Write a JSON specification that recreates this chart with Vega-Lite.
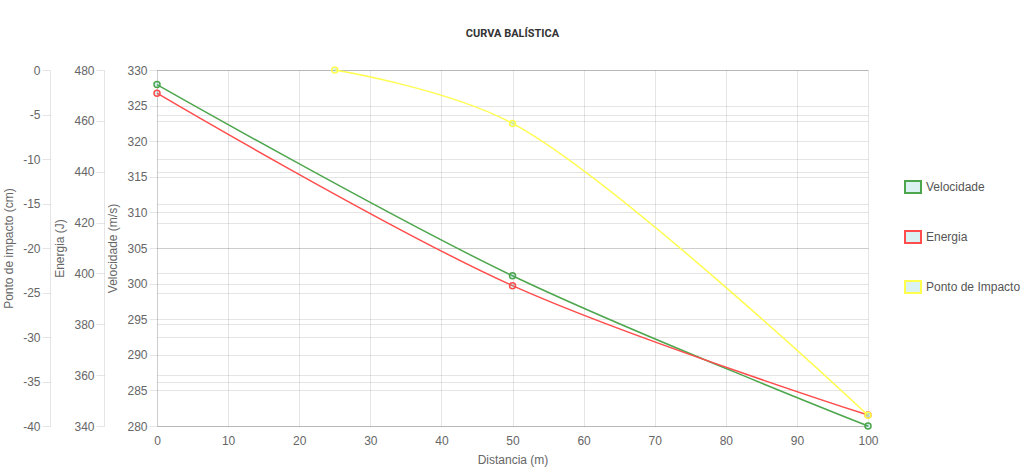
{
  "$schema": "https://vega.github.io/schema/vega-lite/v6.json",
  "autosize": {"type": "none"},
  "padding": {"left": 157, "top": 70, "right": 156, "bottom": 48},
  "width": 711,
  "height": 356,
  "background": "white",
  "title": {"text": "CURVA BALÍSTICA", "font": "Roboto", "fontSize": 11, "fontWeight": "bold", "color": "#333", "anchor": "middle", "offset": 25},
  "config": {
    "view": {"stroke": null},
    "axis": {
      "labelFont": "Liberation Sans", "labelFontSize": 12, "labelColor": "#666",
      "titleFont": "Liberation Sans", "titleFontSize": 12, "titleFontWeight": "normal", "titleColor": "#666",
      "gridColor": "rgba(0,0,0,0.1)", "domainColor": "rgba(0,0,0,0.1)", "tickColor": "rgba(0,0,0,0.1)",
      "tickSize": 8, "labelPadding": 2, "titlePadding": 7, "labelExpr": "'' + datum.value"
    },
    "legend": {
      "orient": "none", "legendX": 747, "legendY": 108, "title": null,
      "symbolType": "M-1,-0.75H1V0.75H-1Z", "symbolSize": 256, "symbolStrokeWidth": 2,
      "labelFont": "Liberation Sans", "labelFontSize": 12, "labelColor": "#555",
      "rowPadding": 30, "labelOffset": 4
    }
  },
  "data": {"values": [
    {"serie": "Velocidade", "distancia": 0, "valor": 327.95},
    {"serie": "Velocidade", "distancia": 50, "valor": 301.1},
    {"serie": "Velocidade", "distancia": 100, "valor": 280},
    {"serie": "Energia", "distancia": 0, "valor": 470.9},
    {"serie": "Energia", "distancia": 50, "valor": 395.2},
    {"serie": "Energia", "distancia": 100, "valor": 344.3},
    {"serie": "Ponto de Impacto", "distancia": 25, "valor": 0},
    {"serie": "Ponto de Impacto", "distancia": 50, "valor": -6},
    {"serie": "Ponto de Impacto", "distancia": 100, "valor": -38.8}
  ]},
  "encoding": {
    "x": {"field": "distancia", "type": "quantitative", "scale": {"domain": [0, 100], "nice": false},
      "axis": {"title": "Distancia (m)", "values": [0,10,20,30,40,50,60,70,80,90,100], "domain": false, "ticks": false, "labelFlush": false, "labelPadding": 9, "titlePadding": 8}}
  },
  "layer": [
    {
      "transform": [{"filter": "datum.serie === 'Velocidade'"}],
      "encoding": {
        "y": {"field": "valor", "type": "quantitative", "scale": {"domain": [280, 330], "nice": false, "zero": false},
          "axis": {"title": "Velocidade (m/s)", "orient": "left", "offset": 0, "values": [280,285,290,295,300,305,310,315,320,325,330]}}
      },
      "layer": [
        {"mark": {"type": "line", "interpolate": "catmull-rom", "strokeWidth": 1.5},
         "encoding": {"color": {"field": "serie", "type": "nominal", "scale": {"domain": ["Velocidade", "Energia", "Ponto de Impacto"], "range": ["#4da64d", "#ff4d4d", "#ffff4d"]},
           "legend": {"symbolFillColor": "#dbf2f2", "encode": {"symbols": {"update": {"fill": {"value": "#dbf2f2"}, "fillOpacity": {"value": 1}}}}}}}},
        {"mark": {"type": "point", "filled": true, "fill": "#4bc0c0", "fillOpacity": 0.2, "size": 36, "strokeWidth": 1.5, "opacity": 1},
         "encoding": {"stroke": {"field": "serie", "type": "nominal", "scale": {"domain": ["Velocidade", "Energia", "Ponto de Impacto"], "range": ["#4da64d", "#ff4d4d", "#ffff4d"]}, "legend": null}}}
      ]
    },
    {
      "transform": [{"filter": "datum.serie === 'Energia'"}],
      "encoding": {
        "y": {"field": "valor", "type": "quantitative", "scale": {"domain": [340, 480], "nice": false, "zero": false},
          "axis": {"title": "Energia (J)", "orient": "left", "offset": 53, "grid": true, "values": [340,360,380,400,420,440,460,480]}}
      },
      "layer": [
        {"mark": {"type": "line", "interpolate": "catmull-rom", "strokeWidth": 1.5},
         "encoding": {"color": {"field": "serie", "type": "nominal"}}},
        {"mark": {"type": "point", "filled": true, "fill": "#4bc0c0", "fillOpacity": 0.2, "size": 36, "strokeWidth": 1.5, "opacity": 1},
         "encoding": {"stroke": {"field": "serie", "type": "nominal", "legend": null}}}
      ]
    },
    {
      "transform": [{"filter": "datum.serie === 'Ponto de Impacto'"}],
      "encoding": {
        "y": {"field": "valor", "type": "quantitative", "scale": {"domain": [-40, 0], "nice": false, "zero": false},
          "axis": {"title": "Ponto de impacto (cm)", "orient": "left", "offset": 107, "grid": true, "values": [-40,-35,-30,-25,-20,-15,-10,-5,0]}}
      },
      "layer": [
        {"mark": {"type": "line", "interpolate": "catmull-rom", "strokeWidth": 1.5},
         "encoding": {"color": {"field": "serie", "type": "nominal"}}},
        {"mark": {"type": "point", "filled": true, "fill": "#4bc0c0", "fillOpacity": 0.2, "size": 36, "strokeWidth": 1.5, "opacity": 1},
         "encoding": {"stroke": {"field": "serie", "type": "nominal", "legend": null}}}
      ]
    }
  ],
  "resolve": {"scale": {"y": "independent"}, "axis": {"y": "independent"}}
}
